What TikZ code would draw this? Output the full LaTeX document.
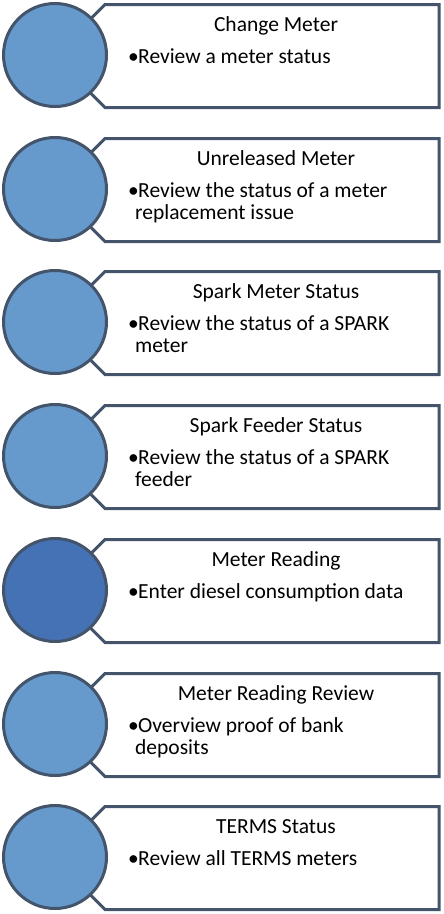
\documentclass[tikz,border=0pt]{standalone}
\usepackage{fontspec}
\setmainfont{Carlito}
\definecolor{rimSlate}{HTML}{44546A}
\definecolor{dotLight}{HTML}{6699CC}
\definecolor{dotDark}{HTML}{4472B4}
\newcommand{\itemDot}{\makebox[10pt][l]{\textbullet}}
\begin{document}
\begin{tikzpicture}[x=1pt, y=-1pt,
    menuBox/.style={draw=rimSlate, line width=3pt, fill=white, line join=miter},
    menuDot/.style={circle, draw=rimSlate, line width=3pt, fill=dotLight, minimum size=103pt, inner sep=0pt},
    menuTitle/.style={anchor=base, inner sep=0pt, font=\fontsize{21.5}{21.6}\selectfont},
    menuItem/.style={anchor=base west, inner sep=0pt, align=left, font=\fontsize{21.5}{21.6}\selectfont},
]
\useasboundingbox (0,0) rectangle (444,914);
% Change Meter
\draw[menuBox] (105,4.5) -- (439,4.5) -- (439,107.5) -- (105,107.5) -- (85,87.5) -- (85,24.5) -- cycle;
\node[menuDot] (dotChange) at (55,55) {};
\node[menuTitle] (titleChange) at (276,31) {Change Meter};
\node[menuItem] (itemChange) at (128,63.5) {\itemDot Review a meter status};
% Unreleased Meter
\draw[menuBox] (105,138.5) -- (439,138.5) -- (439,241.5) -- (105,241.5) -- (85,221.5) -- (85,158.5) -- cycle;
\node[menuDot] (dotUnreleased) at (55,189) {};
\node[menuTitle] (titleUnreleased) at (276,165) {Unreleased Meter};
\node[menuItem] (itemUnreleased) at (128,219.1) {\itemDot Review the status of a meter\\\hspace*{7pt}replacement issue};
% Spark Meter Status
\draw[menuBox] (105,271.5) -- (439,271.5) -- (439,374.5) -- (105,374.5) -- (85,354.5) -- (85,291.5) -- cycle;
\node[menuDot] (dotSparkMeter) at (55,322) {};
\node[menuTitle] (titleSparkMeter) at (276,298) {Spark Meter Status};
\node[menuItem] (itemSparkMeter) at (128,352.1) {\itemDot Review the status of a SPARK\\\hspace*{7pt}meter};
% Spark Feeder Status
\draw[menuBox] (105,405.5) -- (439,405.5) -- (439,508.5) -- (105,508.5) -- (85,488.5) -- (85,425.5) -- cycle;
\node[menuDot] (dotSparkFeeder) at (55,456) {};
\node[menuTitle] (titleSparkFeeder) at (276,432) {Spark Feeder Status};
\node[menuItem] (itemSparkFeeder) at (128,486.1) {\itemDot Review the status of a SPARK\\\hspace*{7pt}feeder};
% Meter Reading (highlighted)
\draw[menuBox] (105,539.5) -- (439,539.5) -- (439,642.5) -- (105,642.5) -- (85,622.5) -- (85,559.5) -- cycle;
\node[menuDot, fill=dotDark] (dotReading) at (55,590) {};
\node[menuTitle] (titleReading) at (276,566) {Meter Reading};
\node[menuItem] (itemReading) at (128,598.5) {\itemDot Enter diesel consumption data};
% Meter Reading Review
\draw[menuBox] (105,673.5) -- (439,673.5) -- (439,776.5) -- (105,776.5) -- (85,756.5) -- (85,693.5) -- cycle;
\node[menuDot] (dotReview) at (55,724) {};
\node[menuTitle] (titleReview) at (276,700) {Meter Reading Review};
\node[menuItem] (itemReview) at (128,754.1) {\itemDot Overview proof of bank\\\hspace*{7pt}deposits};
% TERMS Status
\draw[menuBox] (105,806.5) -- (439,806.5) -- (439,909.5) -- (105,909.5) -- (85,889.5) -- (85,826.5) -- cycle;
\node[menuDot] (dotTerms) at (55,857) {};
\node[menuTitle] (titleTerms) at (276,833) {TERMS Status};
\node[menuItem] (itemTerms) at (128,865.5) {\itemDot Review all TERMS meters};
\end{tikzpicture}
\end{document}
